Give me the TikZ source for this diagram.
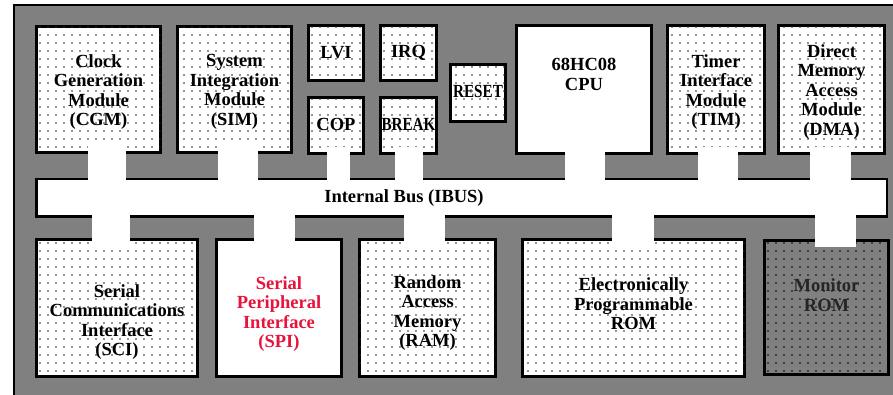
\documentclass[tikz,border=0pt]{standalone}
\usepackage{fontspec}
\setmainfont{Liberation Serif}
\usetikzlibrary{positioning, calc, patterns.meta}

\definecolor{bggray}{gray}{0.5}
\definecolor{spired}{RGB}{230,20,60}

\begin{document}
\begin{tikzpicture}[
    x=1pt, y=-1pt,
    block/.style={draw, line width=3pt, outer sep=0pt, inner sep=0pt, fill=white},
    dotted_block/.style={block, postaction={pattern={Dots[distance=8pt, radius=0.85pt]}, pattern color=black!85}},
    dark_block/.style={block, fill=bggray, postaction={pattern={Dots[distance=8pt, radius=0.85pt]}, pattern color=black}},
    bus/.style={draw, line width=2.5pt, outer sep=0pt, fill=white},
    lbl/.style={font=\bfseries\fontsize{18.5}{19.5}\selectfont, align=center, inner sep=0pt},
    link/.style={white, shorten <=-6pt, shorten >=-2pt},
]

\useasboundingbox (0,0) rectangle (893,395);
\clip (0,0) rectangle (893,395);

% chip outline
\fill[bggray] (14,5) rectangle (900,400);
\draw[line width=2.5pt] (14,400) -- (14,5) -- (900,5);

% modules top
\node[dotted_block, minimum width=124, minimum height=126] (cgm) at (98.5,89.5) {};
\node[dotted_block, minimum width=114, minimum height=126] (sim) at (234.5,89.5) {};
\node[dotted_block, minimum width=55, minimum height=55] (lvi) at (336,53) {};
\node[dotted_block, minimum width=56, minimum height=55] (irq) at (408.5,53) {};
\node[dotted_block, minimum width=55, minimum height=56] (cop) at (336,125.5) {};
\node[dotted_block, minimum width=56, minimum height=56] (brk) at (408.5,125.5) {};
\node[dotted_block, minimum width=55, minimum height=57] (rst) at (478,93) {};
\node[block, minimum width=135, minimum height=128] (cpu) at (584,89.5) {};
\node[dotted_block, minimum width=97, minimum height=128] (tim) at (716,89.5) {};
\node[dotted_block, minimum width=106, minimum height=128] (dma) at (831.5,89.5) {};

% bus
\node[bus, minimum width=850.5, minimum height=37.5] (ibus) at (461.5,198) {};

% modules bottom
\node[dotted_block, minimum width=161, minimum height=137] (sci) at (117,308) {};
\node[block, minimum width=125, minimum height=137] (spi) at (279,308) {};
\node[dotted_block, minimum width=136, minimum height=137] (ram) at (427.5,308) {};
\node[dotted_block, minimum width=222, minimum height=137] (eprom) at (633.5,308) {};
\node[dark_block, minimum width=124, minimum height=134] (mon) at (826.5,307.5) {};

% links top
\draw[link, line width=38pt] ([xshift=8.5pt]cgm.south) -- ([xshift=8.5pt]cgm.south |- ibus.north);
\draw[link, line width=40pt] ([xshift=3.5pt]sim.south) -- ([xshift=3.5pt]sim.south |- ibus.north);
\draw[link, line width=23pt] ([xshift=2.5pt]cop.south) -- ([xshift=2.5pt]cop.south |- ibus.north);
\draw[link, line width=28pt] ([xshift=0.5pt]brk.south) -- ([xshift=0.5pt]brk.south |- ibus.north);
\draw[link, line width=40pt] ([xshift=1pt]cpu.south) -- ([xshift=1pt]cpu.south |- ibus.north);
\draw[link, line width=40pt] ([xshift=2pt]tim.south) -- ([xshift=2pt]tim.south |- ibus.north);
\draw[link, line width=41pt] ([xshift=-1pt]dma.south) -- ([xshift=-1pt]dma.south |- ibus.north);

% links bottom
\draw[link, line width=38pt] ([xshift=-6pt]sci.north) -- ([xshift=-6pt]sci.north |- ibus.south);
\draw[link, line width=41pt] ([xshift=-4.5pt]spi.north) -- ([xshift=-4.5pt]spi.north |- ibus.south);
\draw[link, line width=41pt] ([xshift=-3pt]ram.north) -- ([xshift=-3pt]ram.north |- ibus.south);
\draw[link, line width=42pt] ([xshift=-0.5pt]eprom.north) -- ([xshift=-0.5pt]eprom.north |- ibus.south);
\draw[link, line width=41pt] ([xshift=9pt]mon.north) -- ([xshift=9pt]mon.north |- ibus.south);

% labels
\node[lbl] (cgm_txt) at ($(cgm)+(0,2.5)$) {Clock\\Generation\\Module\\(CGM)};
\node[lbl] (sim_txt) at ($(sim)+(0,2.5)$) {System\\Integration\\Module\\(SIM)};
\node[lbl] (lvi_txt) at ($(lvi)+(0,0)$) {LVI};
\node[lbl] (irq_txt) at ($(irq)+(0,0)$) {IRQ};
\node[lbl] (cop_txt) at ($(cop)+(0,-1)$) {COP};
\node[lbl] (brk_txt) at ($(brk)+(0,-1)$) {\scalebox{0.82}[1]{BREAK}};
\node[lbl] (rst_txt) at ($(rst)+(0,-2)$) {\scalebox{0.82}[1]{RESET}};
\node[lbl] (cpu_txt) at ($(cpu)+(0,-15)$) {68HC08\\CPU};
\node[lbl] (tim_txt) at ($(tim)+(0,2.5)$) {Timer\\Interface\\Module\\(TIM)};
\node[lbl] (dma_txt) at ($(dma)+(0,2.5)$) {Direct\\Memory\\Access\\Module\\(DMA)};
\node[lbl] (ibus_txt) at ($(ibus)+(-57.5,0)$) {Internal Bus (IBUS)};
\node[lbl] (sci_txt) at ($(sci)+(0,14)$) {Serial\\Communications\\Interface\\(SCI)};
\node[lbl, spired] (spi_txt) at ($(spi)+(0,6)$) {Serial\\Peripheral\\Interface\\(SPI)};
\node[lbl] (ram_txt) at ($(ram)+(0,5)$) {Random\\Access\\Memory\\(RAM)};
\node[lbl] (eprom_txt) at ($(eprom)+(0,-4)$) {Electronically\\Programmable\\ROM};
\node[lbl, black!85] (mon_txt) at ($(mon)+(0,-12.5)$) {Monitor\\ROM};

\end{tikzpicture}
\end{document}
